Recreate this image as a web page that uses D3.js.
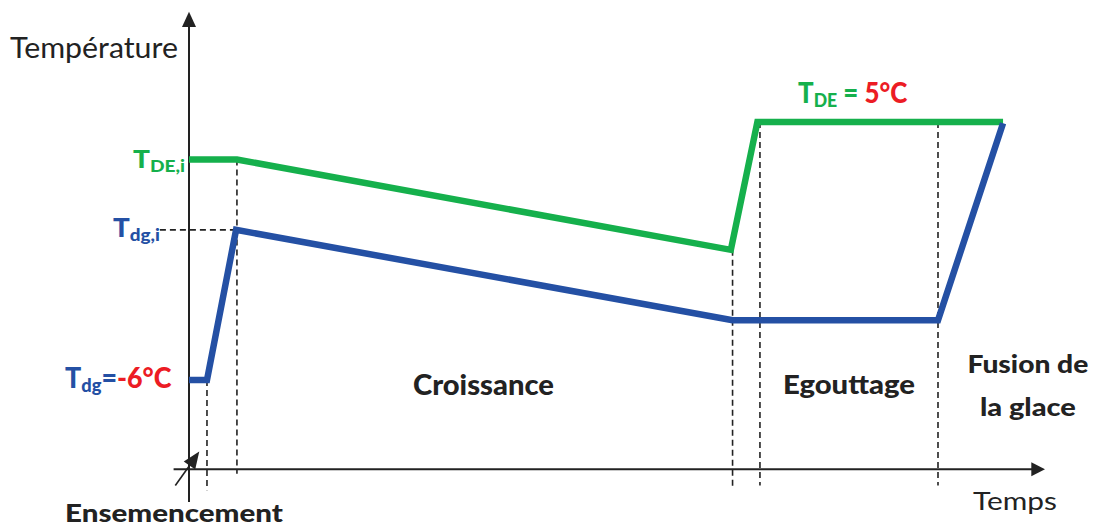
<!DOCTYPE html>
<html>
<head>
<meta charset="utf-8">
<script src="https://cdn.jsdelivr.net/npm/d3@7"></script>
<style>
  body { margin: 0; background: #fff; }
  text { font-family: Lato, "Open Sans", sans-serif; }
</style>
</head>
<body>
<div id="chart"></div>
<script>
// time in arbitrary units, temperature in °C
const greenTime = [0, 5.6, 63.3, 66.4, 95.1];
const greenTemp = [3.4, 3.4, -0.45, 5, 5];
const blueTime = [0, 2.1, 5.5, 63.5, 87.5, 95.1];
const blueTemp = [-6, -6, 0.4, -3.45, -3.45, 4.95];

// vertical dashed markers: time, temperature where they start / stop
const markTime = [2.1, 5.6, 63.5, 66.7, 87.5];
const markTemp = [-6, 3.4, -0.45, 5, 5];
const markBottom = [-10.7, -10.0, -10.6, -10.5, -10.5];

const phaseNames = [["Croissance"], ["Egouttage"], ["Fusion de", "la glace"]];
const phaseTime = [34.4, 77.1, 98.0];
const phaseTemp = [-6.64, -6.6, -5.72];

const W = 1095, H = 527;
const x = d3.scaleLinear().domain([0, 100]).range([189, 1045]);
const y = d3.scaleLinear().domain([-6, 5]).range([380, 122]);

const green = "#15b04c", blue = "#2450a4", red = "#ec1c24", ink = "#222";
const heavy = 900;

const svg = d3.select("#chart").append("svg")
  .attr("width", W).attr("height", H);

// stretch a text horizontally to a target width (source figure is wide-set)
function fit(sel, width) {
  const bb = sel.node().getBBox();
  const sx = width / bb.width;
  const ax = +sel.attr("x"), ay = +sel.attr("y");
  sel.attr("transform", `translate(${ax},${ay}) scale(${sx},1) translate(${-ax},${-ay})`);
  return sel;
}

// dashed guides
const dash = svg.append("g")
  .attr("stroke", "#222").attr("stroke-width", 1.6)
  .attr("stroke-dasharray", "6,4");
markTime.forEach((t, i) => {
  dash.append("line")
    .attr("x1", x(t)).attr("x2", x(t))
    .attr("y1", y(markTemp[i])).attr("y2", y(markBottom[i]));
});
dash.append("line")
  .attr("x1", x(-3.4)).attr("x2", x(5.5))
  .attr("y1", y(0.4)).attr("y2", y(0.4));

// axes
const x0 = x(0), yAxis = y(-9.8);
svg.append("line")
  .attr("x1", x0).attr("x2", x0)
  .attr("y1", y(9.1)).attr("y2", y(-11.2))
  .attr("stroke", ink).attr("stroke-width", 2);
svg.append("path")
  .attr("d", `M${x0},${y(9.7)} L${x0 - 7},${y(9.05)} L${x0 + 7},${y(9.05)} Z`)
  .attr("fill", ink);
svg.append("line")
  .attr("x1", x(-1.8)).attr("x2", x(98.6))
  .attr("y1", yAxis).attr("y2", yAxis)
  .attr("stroke", ink).attr("stroke-width", 2);
svg.append("path")
  .attr("d", `M${x(100)},${yAxis} L${x(98.4)},${yAxis - 7} L${x(98.4)},${yAxis + 7} Z`)
  .attr("fill", ink);

// origin arrow (Ensemencement)
const ax1 = x(-1.6), ay1 = y(-10.5), ax2 = x(1.2), ay2 = y(-9.05);
svg.append("line")
  .attr("x1", ax1).attr("y1", ay1).attr("x2", ax2 - 4).attr("y2", ay2 + 6)
  .attr("stroke", ink).attr("stroke-width", 1.6);
{
  const ang = Math.atan2(ay2 - ay1, ax2 - ax1);
  const L = 17, w = 7;
  const bx = ax2 - L * Math.cos(ang), by = ay2 - L * Math.sin(ang);
  const px = -Math.sin(ang) * w, py = Math.cos(ang) * w;
  svg.append("path")
    .attr("d", `M${ax2},${ay2} L${bx + px},${by + py} L${bx - px},${by - py} Z`)
    .attr("fill", ink);
}

// curves
const line = d3.line().x(d => x(d[0])).y(d => y(d[1]));
svg.append("path")
  .attr("d", line(d3.zip(greenTime, greenTemp)))
  .attr("fill", "none").attr("stroke", green).attr("stroke-width", 6.5);
svg.append("path")
  .attr("d", line(d3.zip(blueTime, blueTemp)))
  .attr("fill", "none").attr("stroke", blue).attr("stroke-width", 6.5);

// axis titles
fit(svg.append("text").attr("x", 10).attr("y", 58)
  .attr("font-size", 28).attr("fill", ink).text("Température"), 168);
fit(svg.append("text").attr("x", 973).attr("y", 510)
  .attr("font-size", 25).attr("fill", ink).text("Temps"), 84);
fit(svg.append("text").attr("x", 65).attr("y", 522)
  .attr("font-size", 24).attr("font-weight", heavy).attr("fill", ink)
  .text("Ensemencement"), 218);

// phase labels
const phaseWidths = [[141], [132], [121, 96]];
const phaseSizes = [28, 26, 25];
phaseNames.forEach((lines, i) => {
  lines.forEach((s, j) => {
    const t = svg.append("text")
      .attr("x", x(phaseTime[i])).attr("y", y(phaseTemp[i]) + j * 43)
      .attr("text-anchor", "middle")
      .attr("font-size", phaseSizes[i]).attr("font-weight", heavy).attr("fill", ink)
      .text(s);
    fit(t, phaseWidths[i][j]);
  });
});

// temperature labels
function tempLabel(px, py, anchor, color, big, sub, width, tail) {
  const t = svg.append("text")
    .attr("x", px).attr("y", py).attr("text-anchor", anchor)
    .attr("font-weight", heavy).attr("fill", color);
  t.append("tspan").attr("font-size", big).text("T");
  t.append("tspan").attr("font-size", big * 0.68).attr("dy", 4).text(sub);
  if (tail) tail(t);
  fit(t, width);
}
tempLabel(185, y(3.4) + 8, "end", green, 25, "DE,i", 52);
tempLabel(160, y(0.4) + 7, "end", blue, 26, "dg,i", 47);
tempLabel(65, y(-6) + 8, "start", blue, 28, "dg", 107, t => {
  t.append("tspan").attr("font-size", 28).attr("dy", -4).text("=");
  t.append("tspan").attr("font-size", 28).attr("fill", red).text("-6°C");
});
tempLabel(798, y(5) - 19, "start", green, 28, "DE", 110, t => {
  t.append("tspan").attr("font-size", 28).attr("dy", -4).text(" = ");
  t.append("tspan").attr("font-size", 28).attr("fill", red).text("5°C");
});
</script>
</body>
</html>
